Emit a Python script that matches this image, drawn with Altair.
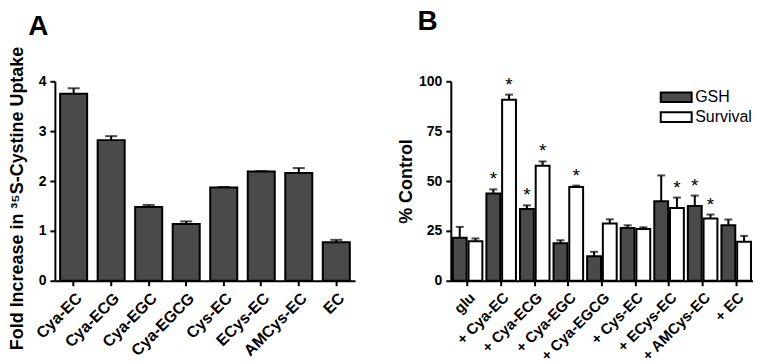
import altair as alt
import pandas as pd

# ---- Panel A data ----
a_cats = ["Cya-EC", "Cya-ECG", "Cya-EGC", "Cya-EGCG", "Cys-EC", "ECys-EC", "AMCys-EC", "EC"]
a_vals = [3.75, 2.82, 1.48, 1.14, 1.87, 2.19, 2.16, 0.77]
a_errs = [0.11, 0.08, 0.04, 0.05, 0.01, 0.01, 0.10, 0.05]

# ---- Panel B data ----
b_cats = ["glu", "+ Cya-EC", "+ Cya-ECG", "+ Cya-EGC", "+ Cya-EGCG",
          "+ Cys-EC", "+ ECys-EC", "+ AMCys-EC", "+ EC"]
gsh_vals = [21.5, 43.7, 36.0, 18.8, 12.3, 26.5, 39.8, 37.5, 27.8]
gsh_errs = [5.5, 2.1, 1.8, 1.5, 2.2, 1.3, 13.0, 5.2, 2.9]
surv_vals = [19.8, 90.7, 57.7, 47.0, 28.7, 26.0, 36.5, 31.2, 19.5]
surv_errs = [1.4, 2.6, 2.1, 0.7, 2.1, 0.8, 5.2, 2.0, 3.0]
gsh_star = [False, True, True, False, False, False, False, True, False]
surv_star = [False, True, True, True, False, False, True, True, False]
series = ["GSH", "Survival"]

FONT = "Liberation Sans"
DARK = "#4a4a4a"

dfA = pd.DataFrame({
    "cat": a_cats,
    "val": a_vals,
    "hi": [v + e for v, e in zip(a_vals, a_errs)],
})

rows = []
for i, c in enumerate(b_cats):
    rows.append({"cat": c, "series": "GSH", "val": gsh_vals[i],
                 "hi": gsh_vals[i] + gsh_errs[i], "star": gsh_star[i]})
    rows.append({"cat": c, "series": "Survival", "val": surv_vals[i],
                 "hi": surv_vals[i] + surv_errs[i], "star": surv_star[i]})
dfB = pd.DataFrame(rows)

# ---- Panel A ----
xA = alt.X("cat:N", sort=a_cats,
           scale=alt.Scale(paddingInner=0.28, paddingOuter=0.14),
           axis=alt.Axis(title=None, labelAngle=-45, labelFontSize=16))
yA = alt.Y("val:Q", scale=alt.Scale(domain=[0, 4]),
           axis=alt.Axis(values=[0, 1, 2, 3, 4],
                         title="Fold Increase in  \u00b3\u2075S-Cystine Uptake",
                         titlePadding=12, titleY=117))
baseA = alt.Chart(dfA)
errA = baseA.mark_rule(color="black", strokeWidth=2).encode(x=xA, y=alt.Y("val:Q"), y2="hi:Q")
capA = baseA.mark_tick(color="black", thickness=2, size=12).encode(x=xA, y=alt.Y("hi:Q"))
barsA = baseA.mark_bar(color=DARK, stroke="black", strokeWidth=2).encode(x=xA, y=yA)
chartA = alt.layer(errA, capA, barsA).properties(
    width=301, height=200,
    title=alt.Title("A", anchor="start", fontSize=28, font=FONT, fontWeight="bold",
                    dx=20, offset=3, color="black"),
)

# ---- Panel B ----
xB = alt.X("cat:N", sort=b_cats,
           scale=alt.Scale(paddingInner=0.12, paddingOuter=0.06),
           axis=alt.Axis(title=None, labelAngle=-45, labelFontSize=15))
xoB = alt.XOffset("series:N", sort=series, scale=alt.Scale(paddingInner=0.12))
yB = alt.Y("val:Q", scale=alt.Scale(domain=[0, 100]),
           axis=alt.Axis(values=[0, 25, 50, 75, 100], title="% Control", titlePadding=3))
colB = alt.Color("series:N",
                 scale=alt.Scale(domain=series, range=[DARK, "white"]),
                 legend=alt.Legend(title=None, orient="none", legendX=612, legendY=5,
                                   symbolType="M-1.6,-0.5H1.6V0.5H-1.6Z", symbolSize=376,
                                   symbolStrokeColor="black", symbolStrokeWidth=2,
                                   symbolOpacity=1, labelFontSize=16, labelFont=FONT,
                                   labelColor="black", labelFontWeight="normal",
                                   rowPadding=0, labelOffset=8))
baseB = alt.Chart(dfB)
errB = baseB.mark_rule(color="black", strokeWidth=2).encode(
    x=xB, xOffset=xoB, y=alt.Y("val:Q"), y2="hi:Q")
capB = baseB.mark_tick(color="black", thickness=2, size=8).encode(
    x=xB, xOffset=xoB, y=alt.Y("hi:Q"))
barsB = baseB.mark_bar(stroke="black", strokeWidth=2, opacity=1).encode(
    x=xB, xOffset=xoB, y=yB, color=colB)
starsB = baseB.transform_filter("datum.star").mark_text(
    text="*", fontSize=19, font=FONT, color="black", baseline="alphabetic", dy=-4
).encode(x=xB, xOffset=xoB, y=alt.Y("hi:Q"))
chartB = alt.layer(errB, capB, barsB, starsB).properties(
    width=303, height=200,
    title=alt.Title("B", anchor="start", fontSize=28, font=FONT, fontWeight="bold",
                    dx=20, offset=38, color="black"),
)

chart = alt.hconcat(chartA, chartB, spacing=42).properties(
    padding={"left": 0, "top": 0, "right": 0, "bottom": 0}
).configure_view(stroke=None).configure_axis(
    domainColor="black", domainWidth=2, tickColor="black", tickWidth=2, tickSize=5,
    labelFont=FONT, labelFontWeight="bold", labelFontSize=14, labelColor="black",
    titleFont=FONT, titleFontWeight="bold", titleFontSize=18, titleColor="black",
    grid=False, labelPadding=4,
)

chart.save("out.html", embed_options={"renderer": "svg", "actions": False})
